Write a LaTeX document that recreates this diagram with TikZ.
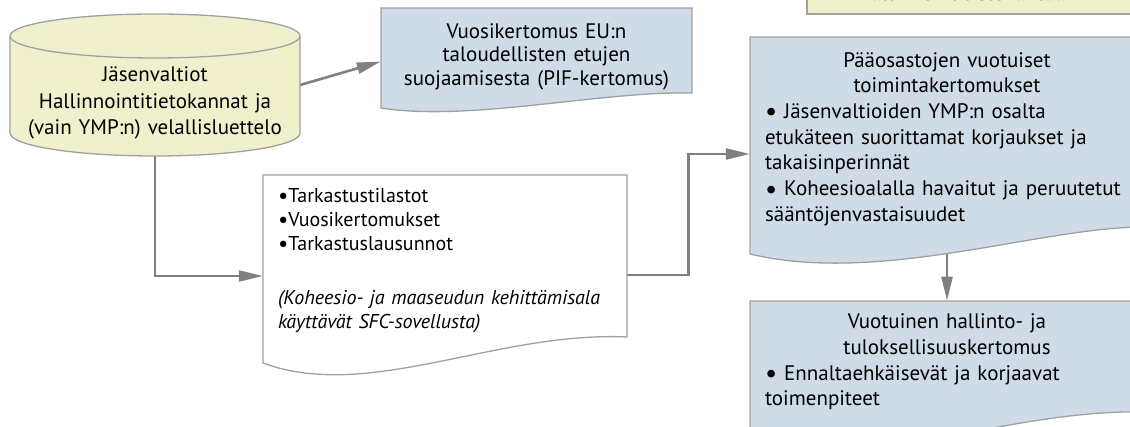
\documentclass[tikz,border=0pt]{standalone}
\usepackage{fontspec}
\setmainfont{PT Sans}
\usetikzlibrary{arrows.meta,calc,backgrounds}
\setlength{\parindent}{0pt}
\definecolor{dbyellow}{RGB}{240,240,205}
\definecolor{repblue}{RGB}{207,219,230}
\definecolor{edgegray}{RGB}{160,160,160}
\definecolor{arrowgray}{RGB}{128,128,128}
\newcommand{\bigbul}{\smash{\raisebox{-2.5pt}{\fontsize{27}{20}\selectfont\textbullet}}}
\newcommand{\listbul}{\smash{\raisebox{-1pt}{\fontsize{23}{20}\selectfont\textbullet}}}

\begin{document}
\begin{tikzpicture}[x=1pt,y=1pt,
  shapeline/.style={draw=edgegray,line width=1.3pt},
  conn/.style={draw=arrowgray,line width=2.6pt,-{Triangle[length=24pt,width=11pt]}},
  dbtext/.style={align=center,text width=270pt,inner xsep=10pt,font={\fontsize{21}{26.5}\selectfont}},
  pifbox/.style={align=center,text width=291pt,inner xsep=10pt,font={\fontsize{21}{23.5}\selectfont}},
  listbox/.style={align=left,text width=334pt,inner xsep=15pt,font={\fontsize{20}{24}\selectfont}},
  repbox/.style={align=left,text width=364pt,inner xsep=15pt,inner ysep=13pt,font={\fontsize{21}{25.7}\selectfont}}]
\useasboundingbox (0,0) rectangle (1130,427);
\begin{scope}
\path[shapeline,fill=dbyellow] (10,391) -- (10,294) arc[start angle=180,end angle=360,x radius=145,y radius=23] -- (300,391) arc[start angle=0,end angle=180,x radius=145,y radius=22] -- cycle;
\draw[shapeline] (10,391) arc[start angle=180,end angle=360,x radius=145,y radius=22];
\path[shapeline,fill=dbyellow] (807,413) rectangle (1140,460);
\path[shapeline,fill=repblue] (381,419) -- (692,419) -- (692,334) .. controls (600,336) and (470,305) .. (381,319) -- cycle;
\path[shapeline,fill=white] (263,252) -- (627,252) -- (627,90) .. controls (496,96) and (368,25) .. (263,64) -- cycle;
\path[shapeline,fill=repblue] (750,390) -- (1144,390) -- (1144,200) .. controls (1040,200) and (880,142) .. (750,173) -- cycle;
\path[shapeline,fill=repblue] (750,126) -- (1144,126) -- (1144,15) .. controls (1010,18) and (860,-45) .. (750,-25) -- cycle;
\end{scope}
\begin{scope}
\node[dbtext] (db) at (155,324) {Jäsenvaltiot\\Hallinnointitietokannat ja\\(vain YMP:n) velallisluettelo};
\node[pifbox] (pif) at (536.5,370.5) {Vuosikertomus EU:n\\taloudellisten etujen\\suojaamisesta (PIF-kertomus)};
\node[listbox] (tark) at (445,166) {\listbul Tarkastustilastot\\\listbul Vuosikertomukset\\\listbul Tarkastuslausunnot\\[30pt]\textit{(Koheesio- ja maaseudun kehittämisala}\\\textit{käyttävät SFC-sovellusta)}};
\node[repbox] (paa) at (947,288) {{\centering Pääosastojen vuotuiset\\toimintakertomukset\par}\bigbul\ Jäsenvaltioiden YMP:n osalta\\etukäteen suorittamat korjaukset ja\\takaisinperinnät\\\bigbul\ Koheesioalalla havaitut ja peruutetut\\sääntöjenvastaisuudet};
\node[repbox] (vuo) at (947,65) {{\centering Vuotuinen hallinto- ja\\tuloksellisuuskertomus\par}\bigbul\ Ennaltaehkäisevät ja korjaavat\\toimenpiteet};
\node[anchor=base,font={\fontsize{21}{25}\selectfont}] (hal) at (968,426) {hallinnointitietokantaan};
\end{scope}
\begin{scope}[on background layer]
\draw[conn] ([yshift=18pt]db.east) -- ([yshift=-5pt]pif.west);
\draw[conn] (db) |- ([yshift=-15pt]tark.west);
\draw[conn] ([yshift=-14pt]tark.east) -- ++(61,0) |- ([yshift=-15pt]paa.west);
\draw[conn] (paa) -- (vuo);
\end{scope}
\end{tikzpicture}
\end{document}
